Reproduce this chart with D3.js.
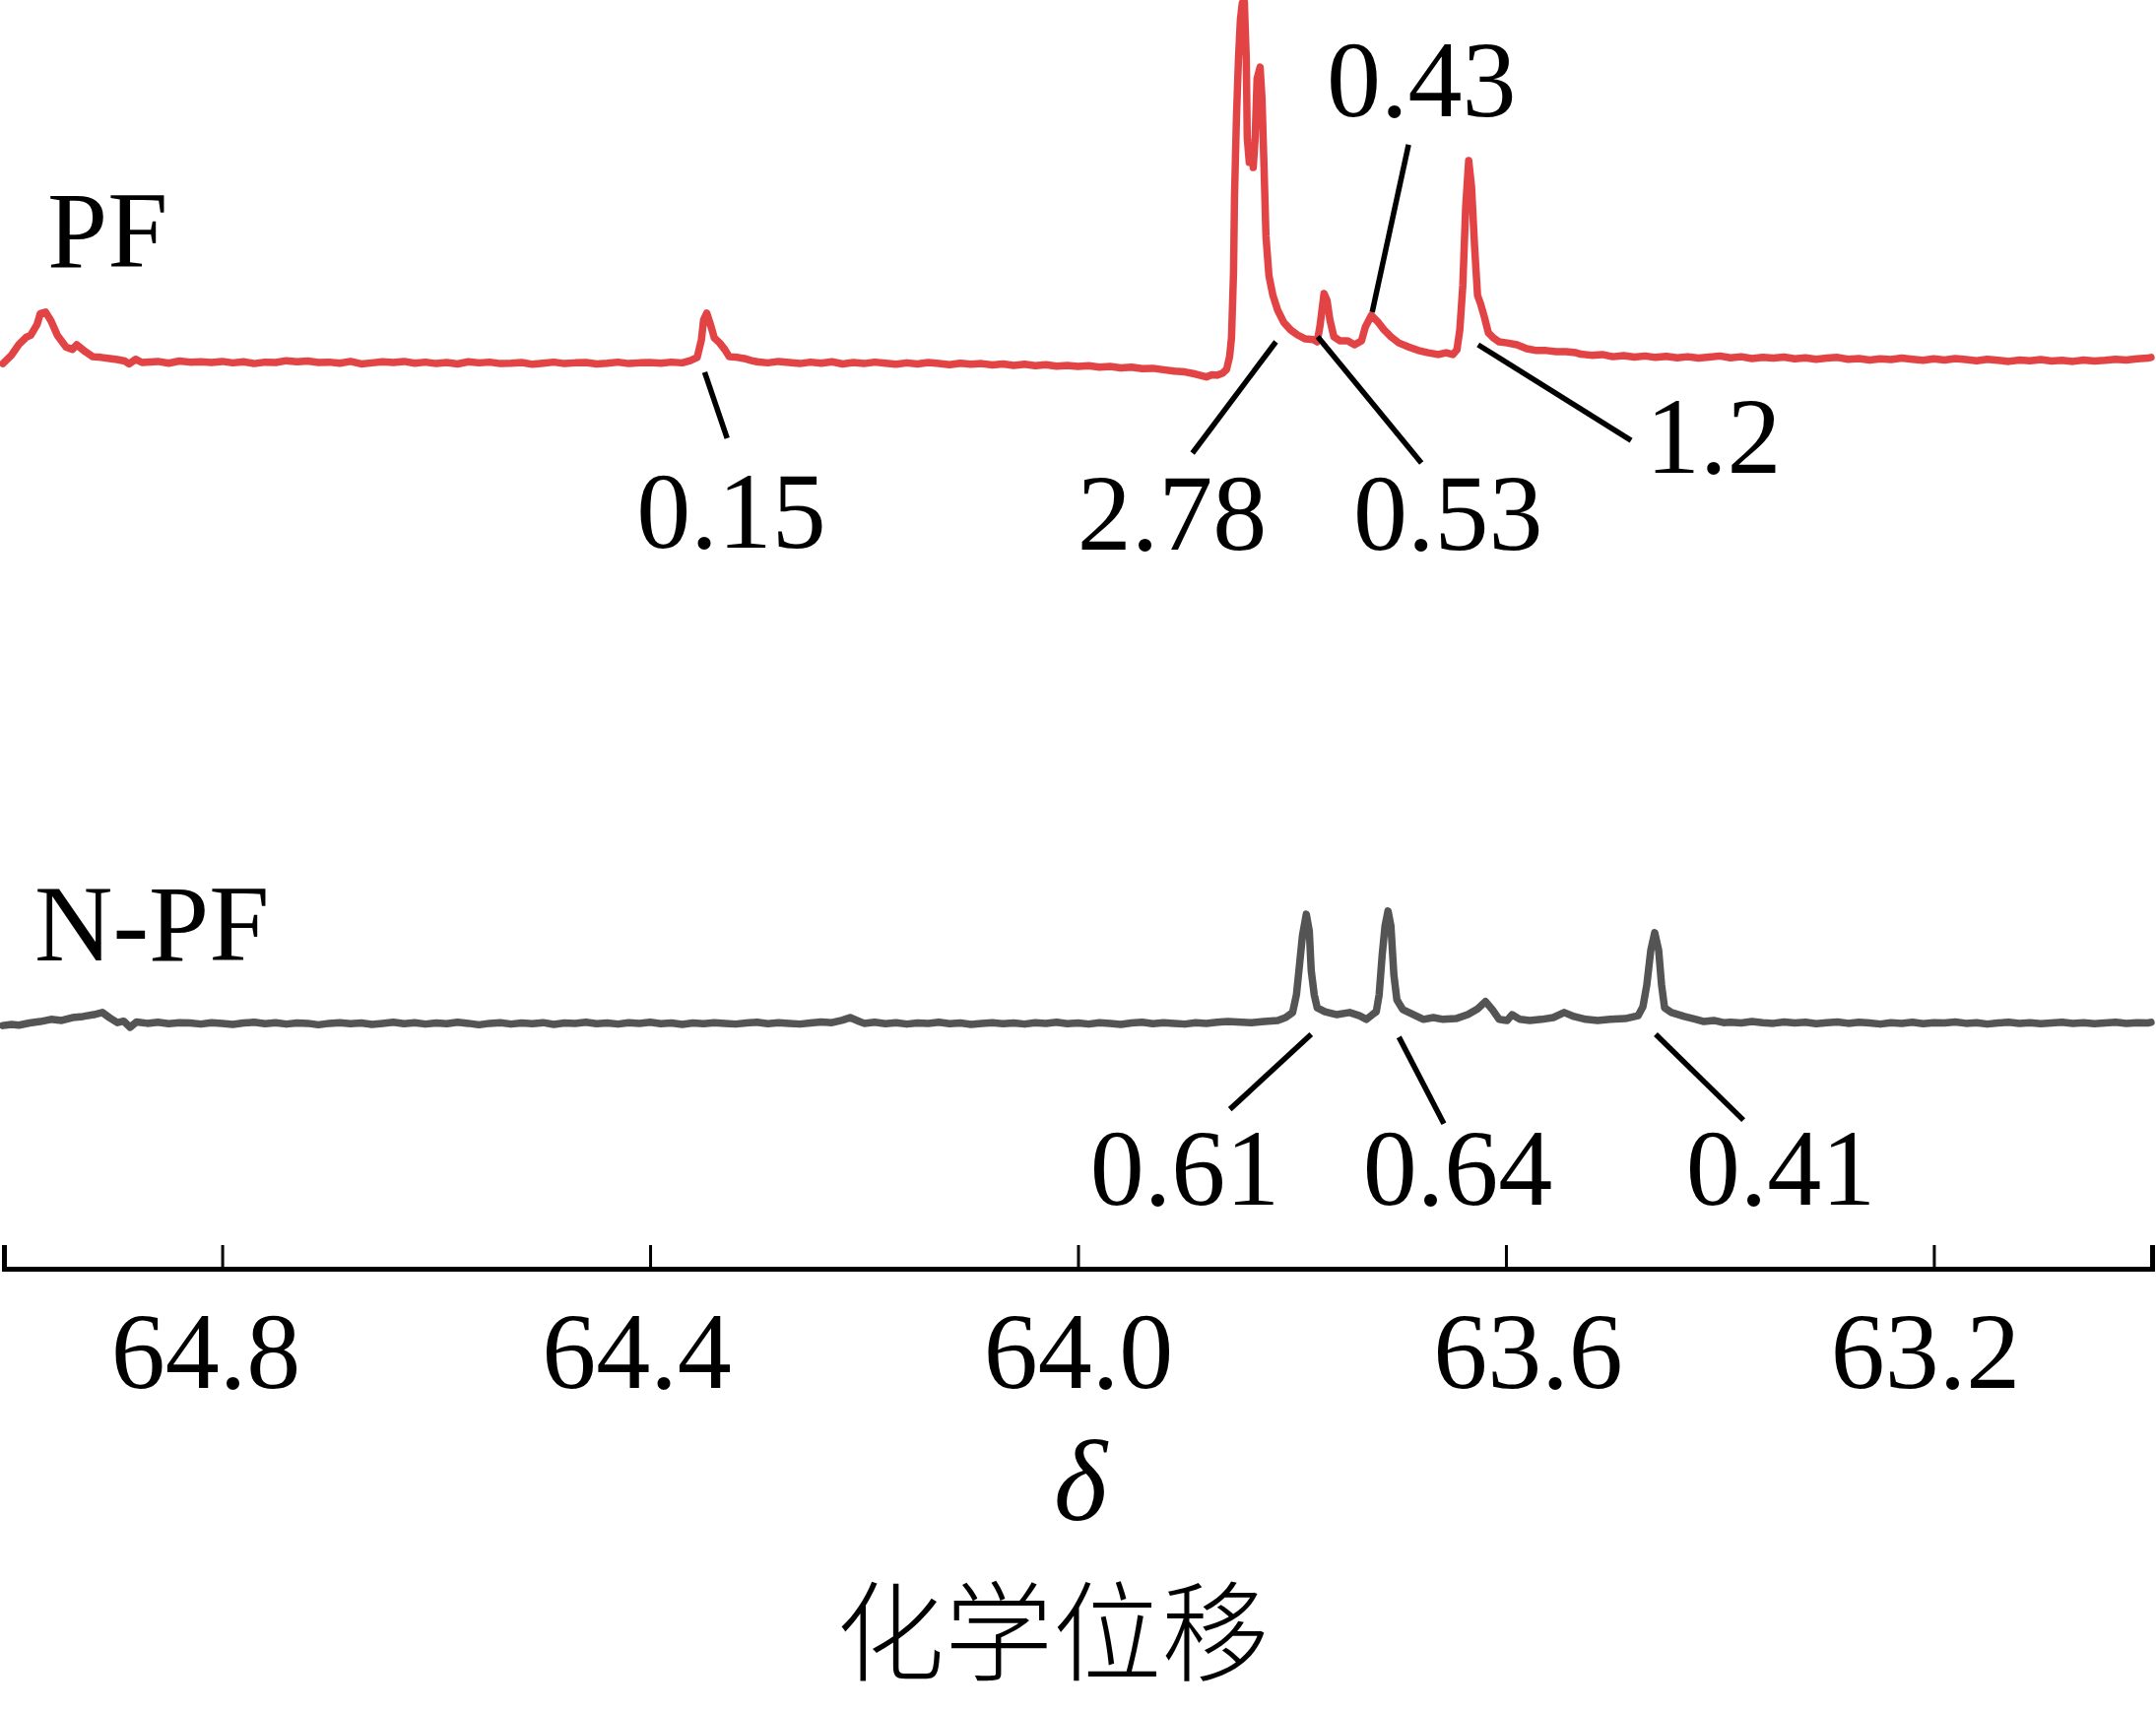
<!DOCTYPE html>
<html>
<head>
<meta charset="utf-8">
<script src="https://cdn.jsdelivr.net/npm/d3@7/dist/d3.min.js"></script>
<style>
  html, body { margin: 0; padding: 0; background: #ffffff; }
  svg { display: block; }
</style>
</head>
<body>
<script>
// ---------------- DATA ----------------
const shiftTicks = [64.8, 64.4, 64.0, 63.6, 63.2];
const tickLabels = ["64.8", "64.4", "64.0", "63.6", "63.2"];
const seriesNames = ["PF", "N-PF"];
const axisSymbol = "δ";
const axisTitle = "化学位移";

// PF spectrum: [chemical shift (ppm), relative intensity]
const pfSpectrum = [
  [65.005,-0.3],[64.997,2.0],[64.990,5.0],[64.983,7.0],[64.979,7.5],[64.973,10.5],[64.970,13.5],[64.965,13.9],
  [64.960,11.5],[64.954,7.5],[64.946,4.3],[64.940,3.6],[64.936,4.9],[64.928,3.0],[64.921,1.6],[64.913,1.4],
  [64.905,1.1],[64.898,0.8],[64.891,0.4],[64.887,-0.4],[64.881,0.9],[64.875,0.0],
  [64.86,0.3],[64.85,-0.2],[64.84,0.4],[64.83,0.1],[64.82,0.2],[64.81,0.0],[64.80,0.3],[64.79,-0.1],
  [64.78,0.2],[64.77,-0.3],[64.76,0.1],[64.75,0.0],[64.74,0.5],[64.73,0.2],[64.72,0.4],[64.71,0.0],
  [64.70,0.1],[64.69,-0.2],[64.68,0.3],[64.67,-0.4],[64.66,-0.1],[64.65,0.2],[64.64,0.0],[64.63,0.3],
  [64.62,-0.2],[64.61,0.1],[64.60,-0.3],[64.59,0.0],[64.58,-0.4],[64.57,0.2],[64.56,-0.1],[64.55,0.1],
  [64.54,-0.3],[64.53,-0.2],[64.52,0.0],[64.51,-0.5],[64.50,-0.2],[64.49,0.1],[64.48,-0.3],[64.47,-0.1],
  [64.46,0.0],[64.45,-0.4],[64.44,-0.2],[64.43,0.1],[64.42,-0.3],[64.41,-0.1],[64.40,0.0],[64.39,-0.2],
  [64.38,0.1],[64.37,-0.1],[64.3625,0.5],[64.356,1.4],[64.352,6.3],[64.350,11.7],[64.347,13.6],[64.344,10.9],
  [64.340,6.8],[64.335,5.4],[64.330,3.5],[64.326,1.6],[64.318,1.4],[64.312,1.1],[64.305,0.5],
  [64.30,0.2],[64.29,-0.1],[64.28,0.3],[64.27,0.0],[64.26,-0.3],[64.25,0.1],[64.24,-0.2],[64.23,0.2],
  [64.22,-0.4],[64.21,0.0],[64.20,-0.3],[64.19,0.1],[64.18,-0.2],[64.17,-0.5],[64.16,-0.1],[64.15,-0.4],
  [64.14,0.0],[64.13,-0.3],[64.12,-0.6],[64.11,-0.2],[64.10,-0.5],[64.09,-0.3],[64.08,-0.7],[64.07,-0.4],
  [64.06,-0.8],[64.05,-0.5],[64.04,-0.9],[64.03,-0.6],[64.02,-1.0],[64.01,-0.8],[64.00,-1.1],[63.99,-0.9],
  [63.98,-1.3],[63.97,-1.1],[63.96,-1.5],[63.95,-1.3],[63.94,-1.7],[63.93,-1.6],[63.92,-2.0],[63.91,-2.4],
  [63.90,-2.6],[63.89,-3.2],[63.88,-4.0],[63.875,-3.4],[63.870,-3.5],[63.865,-3.0],[63.8611,-1.9],
  [63.8583,1.6],[63.8565,6.8],[63.8546,25.0],[63.8537,45.7],[63.8519,67.4],[63.8500,83.7],[63.8482,94.6],
  [63.8464,99.2],[63.8445,99.5],[63.8427,83.7],[63.8418,62.0],[63.8399,55.2],[63.8381,59.2],[63.8362,53.8],
  [63.8344,62.0],[63.8326,78.3],[63.8298,81.5],[63.8280,72.8],[63.8261,53.8],[63.8243,34.8],[63.8215,23.9],
  [63.8178,18.5],[63.8133,14.4],[63.8077,11.1],[63.8013,9.0],[63.7948,7.6],[63.7875,6.5],[63.7801,6.3],
  [63.7764,5.7],[63.7737,10.3],[63.7700,19.0],[63.7672,17.1],[63.7645,11.7],[63.7608,7.1],[63.7553,6.0],
  [63.7479,6.0],[63.7415,4.9],[63.7350,6.0],[63.7314,9.8],[63.7258,13.0],[63.7203,11.4],[63.7139,9.0],
  [63.7075,7.1],[63.7001,5.4],[63.6909,4.3],[63.6817,3.3],[63.6725,2.7],[63.6633,2.2],[63.6559,2.7],
  [63.6495,2.2],[63.6458,3.5],[63.6431,9.0],[63.6403,21.2],[63.6376,42.9],[63.6348,55.7],[63.6321,48.4],
  [63.6293,32.1],[63.6265,18.5],[63.6238,16.3],[63.6201,12.5],[63.6164,8.2],[63.6118,6.8],[63.6063,5.7],
  [63.5989,5.4],[63.5897,4.9],[63.5805,3.8],[63.5713,3.3],[63.5621,3.3],[63.5529,3.0],[63.5437,3.0],
  [63.5345,2.7],[63.53,2.3],[63.52,2.0],[63.51,2.2],[63.50,1.6],[63.49,1.9],[63.48,1.5],[63.47,1.8],
  [63.46,1.4],[63.45,1.7],[63.44,1.3],[63.43,1.6],[63.42,1.2],[63.41,1.5],[63.40,1.8],[63.39,1.3],
  [63.38,1.6],[63.37,1.1],[63.36,1.4],[63.35,1.2],[63.34,1.5],[63.33,1.0],[63.32,1.3],[63.31,0.9],
  [63.30,1.2],[63.29,1.4],[63.28,0.9],[63.27,1.1],[63.26,0.7],[63.25,1.0],[63.24,0.8],[63.23,1.2],
  [63.22,0.9],[63.21,0.6],[63.20,1.0],[63.19,0.7],[63.18,1.1],[63.17,0.8],[63.16,0.5],[63.15,0.9],
  [63.14,0.6],[63.13,0.3],[63.12,0.7],[63.11,0.5],[63.10,0.8],[63.09,0.4],[63.08,0.6],[63.07,0.3],
  [63.06,0.7],[63.05,0.4],[63.04,0.6],[63.03,0.9],[63.02,0.7],[63.01,1.0],[63.00,1.2],[62.997,1.4]
];

// N-PF spectrum: [chemical shift (ppm), relative intensity]
const npfSpectrum = [
  [65.005,-0.3],[64.997,0.0],[64.99,-0.2],[64.98,0.4],[64.97,0.8],[64.96,1.4],[64.95,1.1],[64.94,1.9],
  [64.93,2.2],[64.92,2.7],[64.912,3.3],[64.905,1.8],[64.898,0.5],[64.892,0.9],[64.886,-0.8],[64.88,0.7],
  [64.87,0.3],[64.86,0.6],[64.85,0.2],[64.84,0.5],[64.83,0.4],[64.82,0.1],[64.81,0.5],[64.80,0.3],
  [64.79,0.0],[64.78,0.4],[64.77,0.6],[64.76,0.2],[64.75,0.5],[64.74,0.1],[64.73,0.4],[64.72,0.3],
  [64.71,-0.1],[64.70,0.3],[64.69,0.5],[64.68,0.2],[64.67,0.4],[64.66,0.0],[64.65,0.3],[64.64,0.6],
  [64.63,0.2],[64.62,0.5],[64.61,0.1],[64.60,0.4],[64.59,0.2],[64.58,0.6],[64.57,0.3],[64.56,-0.1],
  [64.55,0.3],[64.54,0.5],[64.53,0.1],[64.52,0.4],[64.51,0.2],[64.50,0.5],[64.49,0.0],[64.48,0.4],
  [64.47,0.3],[64.46,0.6],[64.45,0.2],[64.44,0.4],[64.43,0.1],[64.42,0.5],[64.41,0.3],[64.40,0.6],
  [64.39,0.2],[64.38,0.4],[64.37,0.0],[64.36,0.4],[64.35,0.2],[64.34,0.5],[64.33,0.3],[64.32,0.1],
  [64.31,0.4],[64.30,0.6],[64.29,0.2],[64.28,0.5],[64.27,0.3],[64.26,0.1],[64.25,0.4],[64.24,0.7],
  [64.23,0.5],[64.22,1.2],[64.213,1.9],[64.205,0.9],[64.20,0.3],[64.19,0.6],[64.18,0.2],[64.17,0.5],
  [64.16,0.1],[64.15,0.4],[64.14,0.3],[64.13,0.6],[64.12,0.2],[64.11,0.4],[64.10,0.0],[64.09,0.3],
  [64.08,0.5],[64.07,0.2],[64.06,0.4],[64.05,0.1],[64.04,0.5],[64.03,0.3],[64.02,0.6],[64.01,0.2],
  [64.00,0.4],[63.99,0.1],[63.98,0.5],[63.97,0.3],[63.96,0.0],[63.95,0.4],[63.94,0.6],[63.93,0.2],
  [63.92,0.5],[63.91,0.3],[63.90,0.1],[63.89,0.5],[63.88,0.3],[63.87,0.6],[63.86,0.8],
  [63.8381,0.5],[63.8261,0.8],[63.8133,1.1],[63.8059,1.9],[63.7994,3.3],[63.7958,8.2],[63.7930,16.3],
  [63.7902,24.5],[63.7866,30.4],[63.7838,25.8],[63.7820,14.9],[63.7792,8.2],[63.7764,4.6],[63.7691,3.5],
  [63.7580,2.7],[63.7461,3.3],[63.7369,2.4],[63.7304,1.4],[63.7249,2.7],[63.7212,3.5],[63.7185,8.2],
  [63.7157,19.0],[63.7130,27.2],[63.7102,31.3],[63.7075,27.2],[63.7047,13.6],[63.7019,6.8],[63.6964,4.1],
  [63.6863,2.7],[63.6771,1.4],[63.6679,1.9],[63.6587,1.4],[63.6467,1.6],[63.6357,2.7],[63.6265,4.3],
  [63.6191,6.3],[63.6127,4.1],[63.6063,1.4],[63.5989,1.1],[63.5943,2.7],[63.5869,1.4],[63.5777,1.1],
  [63.5667,1.4],[63.5557,1.9],[63.5455,3.3],[63.5363,2.2],[63.5253,1.4],[63.5142,1.1],[63.5023,1.4],
  [63.4885,1.6],[63.4765,2.4],[63.4719,4.9],[63.4683,10.9],[63.4646,20.4],[63.4609,25.3],[63.4572,20.4],
  [63.4545,10.9],[63.4517,4.6],[63.4453,3.3],[63.4333,2.2],[63.4223,1.4],[63.4149,0.8],[63.4057,1.1],
  [63.3965,0.5],[63.39,0.6],[63.38,0.4],[63.37,0.8],[63.36,0.5],[63.35,0.3],[63.34,0.7],[63.33,0.4],
  [63.32,0.6],[63.31,0.2],[63.30,0.5],[63.29,0.7],[63.28,0.3],[63.27,0.6],[63.26,0.4],[63.25,0.1],
  [63.24,0.5],[63.23,0.3],[63.22,0.6],[63.21,0.2],[63.20,0.5],[63.19,0.4],[63.18,0.7],[63.17,0.3],
  [63.16,0.5],[63.15,0.1],[63.14,0.4],[63.13,0.6],[63.12,0.3],[63.11,0.5],[63.10,0.2],[63.09,0.4],
  [63.08,0.6],[63.07,0.3],[63.06,0.5],[63.05,0.2],[63.04,0.4],[63.03,0.6],[63.02,0.3],[63.01,0.5],
  [63.00,0.4],[62.997,0.6]
];

// Peak integration annotations (data coordinates: [ppm, intensity])
const pfIntegrals = ["0.15", "2.78", "0.53", "0.43", "1.2"];
const pfLeaderFrom = [[64.349,-2.7],[63.815,5.7],[63.776,7.1],[63.725,13.9],[63.626,4.9]];
const pfLeaderTo   = [[64.328,-20.9],[63.893,-25.0],[63.679,-27.7],[63.691,60.1],[63.483,-21.5]];
const pfLabelAt    = [[64.324,-51.0],[63.912,-51.6],[63.654,-51.6],[63.679,68.0],[63.406,-30.4]];

const npfIntegrals = ["0.61", "0.64", "0.41"];
const npfLeaderFrom = [[63.782,-2.7],[63.700,-3.5],[63.460,-2.7]];
const npfLeaderTo   = [[63.858,-23.4],[63.658,-27.4],[63.378,-26.4]];
const npfLabelAt    = [[63.900,-49.8],[63.645,-49.8],[63.343,-49.8]];

// ---------------- CHART ----------------
const W = 2189, H = 1737;
const serif = "'Liberation Serif', 'Times New Roman', serif";
const fs = 110;
const tickLabelShift = [-17, -14, 0, 22, -9];   // horizontal nudge of tick labels (layout)

const svg = d3.select("body").append("svg")
  .attr("width", W).attr("height", H)
  .attr("viewBox", `0 0 ${W} ${H}`);
svg.append("rect").attr("width", W).attr("height", H).attr("fill", "#ffffff");

const x = d3.scaleLinear().domain([65.004, 62.996]).range([4, 2185]);
const yPF = d3.scaleLinear().domain([0, 100]).range([368, 0]);
const yNPF = d3.scaleLinear().domain([0, 100]).range([1040, 672]);

function drawSpectrum(data, y, color) {
  const line = d3.line().x(d => x(d[0])).y(d => y(d[1]));
  svg.append("path")
    .datum(data)
    .attr("d", line)
    .attr("fill", "none")
    .attr("stroke", color)
    .attr("stroke-width", 7.5)
    .attr("stroke-linejoin", "round")
    .attr("stroke-linecap", "round");
}
drawSpectrum(pfSpectrum, yPF, "#e24446");
drawSpectrum(npfSpectrum, yNPF, "#545454");

function drawAnnotations(labels, from, to, at, y) {
  const g = svg.append("g");
  g.selectAll("line").data(labels).join("line")
    .attr("x1", (d, i) => x(from[i][0])).attr("y1", (d, i) => y(from[i][1]))
    .attr("x2", (d, i) => x(to[i][0])).attr("y2", (d, i) => y(to[i][1]))
    .attr("stroke", "#000").attr("stroke-width", 5.5);
  g.selectAll("text").data(labels).join("text")
    .attr("x", (d, i) => x(at[i][0])).attr("y", (d, i) => y(at[i][1]))
    .attr("text-anchor", "middle")
    .attr("font-family", serif).attr("font-size", fs)
    .attr("fill", "#000")
    .text(d => d);
}
drawAnnotations(pfIntegrals, pfLeaderFrom, pfLeaderTo, pfLabelAt, yPF);
drawAnnotations(npfIntegrals, npfLeaderFrom, npfLeaderTo, npfLabelAt, yNPF);

// series names
svg.append("text").attr("x", 48).attr("y", 271)
  .attr("font-family", serif).attr("font-size", fs).attr("fill", "#000")
  .text(seriesNames[0]);
svg.append("text").attr("x", 35).attr("y", 975)
  .attr("font-family", serif).attr("font-size", fs).attr("fill", "#000")
  .text(seriesNames[1]);

// x axis
const axis = d3.axisBottom(x)
  .tickValues(shiftTicks)
  .tickFormat((d, i) => tickLabels[i])
  .tickSize(-24)
  .tickSizeOuter(-24);
const gAxis = svg.append("g").attr("transform", "translate(0,1288)").call(axis);
gAxis.select(".domain").attr("stroke", "#000").attr("stroke-width", 5);
gAxis.selectAll(".tick line").attr("stroke", "#000").attr("stroke-width", 3);
gAxis.selectAll(".tick text")
  .attr("y", 121).attr("dy", null)
  .attr("x", (d, i) => tickLabelShift[i])
  .attr("font-family", serif).attr("font-size", fs).attr("fill", "#000");

// axis titles
svg.append("text").attr("x", 1097).attr("y", 1543)
  .attr("text-anchor", "middle")
  .attr("font-family", serif).attr("font-style", "italic").attr("font-size", 116)
  .attr("fill", "#000").text(axisSymbol);
svg.append("text").attr("x", 1069).attr("y", 1698)
  .attr("text-anchor", "middle")
  .attr("font-family", "'Noto Sans CJK SC', sans-serif").attr("font-weight", 300)
  .attr("font-size", 110).attr("fill", "#000").text(axisTitle);
</script>
</body>
</html>
